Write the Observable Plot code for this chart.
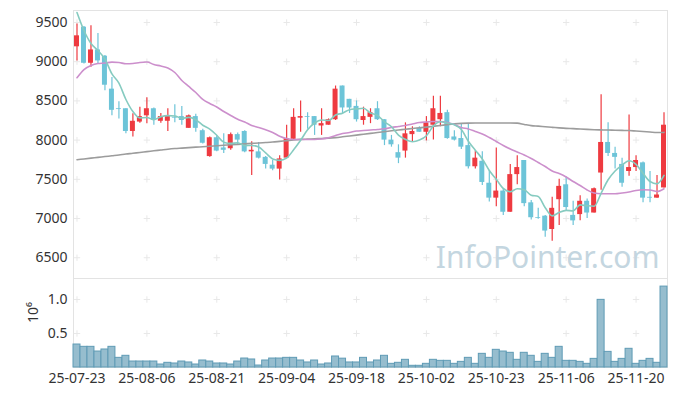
<!DOCTYPE html>
<html><head><meta charset="utf-8">
<script src="https://cdn.jsdelivr.net/npm/d3@7"></script>
<script src="https://cdn.jsdelivr.net/npm/@observablehq/plot@0.6"></script>
<style>
html,body{margin:0;padding:0;background:#fff;}
#chart{width:677px;height:396px;overflow:hidden;position:relative;}
#chart svg{display:block;overflow:visible;}
</style></head><body><div id="chart"></div>
<script>
const dates = ["25-07-23","25-07-24","25-07-25","25-07-28","25-07-29","25-07-30","25-07-31",
"25-08-01","25-08-04","25-08-05","25-08-06","25-08-07","25-08-08","25-08-11","25-08-12","25-08-13","25-08-14","25-08-18","25-08-19","25-08-20","25-08-21","25-08-22","25-08-25","25-08-26","25-08-27","25-08-28","25-08-29",
"25-09-01","25-09-02","25-09-03","25-09-04","25-09-05","25-09-08","25-09-09","25-09-10","25-09-11","25-09-12","25-09-15","25-09-16","25-09-17","25-09-18","25-09-19","25-09-22","25-09-23","25-09-24","25-09-25","25-09-26","25-09-29","25-09-30",
"25-10-01","25-10-02","25-10-10","25-10-13","25-10-14","25-10-15","25-10-16","25-10-17","25-10-20","25-10-21","25-10-22","25-10-23","25-10-24","25-10-27","25-10-28","25-10-29","25-10-30","25-10-31",
"25-11-03","25-11-04","25-11-05","25-11-06","25-11-07","25-11-10","25-11-11","25-11-12","25-11-13","25-11-14","25-11-17","25-11-18","25-11-19","25-11-20","25-11-21","25-11-24","25-11-25","25-11-26"];

const open = [9190,9440,8980,9150,9070,8650,8400,8400,8110,8230,8310,8400,8240,8240,8290,8300,8150,8300,8120,7790,
8030,7900,7890,8070,8110,7850,7850,7780,7680,7630,7770,8010,8280,8300,8300,8180,8190,8260,8690,8520,
8430,8250,8290,8400,8260,8000,7840,7860,8070,8150,8100,8190,8260,8350,8040,8020,7930,7660,7730,7450,
7260,7350,7080,7560,7740,7200,7010,7030,6860,7240,7430,7040,7050,7220,7070,7580,7970,7830,7690,7600,
7650,7710,7270,7260,7390];
const high = [9480,9450,9460,9360,9080,8800,8490,8400,8335,8420,8540,8410,8340,8400,8450,8430,8320,8330,8140,8040,
8060,8080,8090,8090,8120,7980,7970,7790,7740,7800,8190,8400,8500,8350,8300,8400,8270,8690,8690,8520,
8500,8420,8400,8490,8260,8060,7940,8220,8170,8170,8300,8560,8560,8380,8120,8210,8210,7860,7850,7610,
7900,7380,7690,7800,7740,7230,7130,7040,7270,7500,7530,7220,7290,7250,7390,8580,8220,7910,7770,8320,
7800,7720,7600,7550,8350];
const low = [9010,8970,8930,8970,8630,8310,8270,8080,8040,8215,8210,8190,8215,8110,8220,8190,8150,8100,7950,7780,
7850,7830,7870,7930,7840,7550,7760,7630,7610,7490,7770,8000,8100,8140,8060,8060,8190,8250,8340,8340,
8230,8190,8210,8250,7930,7910,7700,7770,7970,8100,7990,8000,8170,8010,7990,7880,7630,7630,7420,7210,
7150,7040,7080,7430,7150,6980,6990,6760,6710,6910,7100,6910,6970,7000,7070,7360,7790,7630,7400,7540,
7600,7200,7200,7260,7390];
const close = [9330,8980,9150,9010,8700,8380,8390,8110,8240,8300,8400,8250,8300,8310,8280,8250,8310,8150,7960,8030,
7860,7870,8070,8000,7850,7870,7770,7690,7630,7760,8020,8290,8300,8290,8190,8210,8260,8650,8410,8410,
8260,8300,8350,8260,8000,7940,7770,8080,8110,8100,8220,8400,8340,8020,8000,7910,7660,7770,7460,7260,
7350,7080,7560,7650,7190,7010,7000,6840,7130,7410,7140,6970,7220,7070,7380,7970,7830,7780,7450,7650,
7740,7260,7260,7300,8190];
// volume, millions of shares
const volume = [0.338,0.304,0.304,0.235,0.265,0.304,0.142,0.172,0.088,0.088,
0.088,0.088,0.044,0.069,0.059,0.088,0.074,0.044,0.103,0.088,
0.059,0.059,0.044,0.088,0.132,0.118,0.029,0.103,0.132,0.132,
0.142,0.142,0.103,0.074,0.103,0.044,0.059,0.162,0.130,0.074,
0.074,0.142,0.074,0.103,0.172,0.054,0.069,0.113,0.025,0.025,
0.054,0.113,0.098,0.098,0.054,0.083,0.142,0.054,0.201,0.142,
0.260,0.235,0.216,0.113,0.216,0.172,0.083,0.201,0.142,0.304,
0.098,0.098,0.083,0.054,0.127,0.995,0.230,0.083,0.127,0.275,
0.054,0.098,0.127,0.069,1.19];
const ma5 = [9628,9398,9232,9143,9034,8844,8726,8518,8364,8284,
8288,8260,8298,8312,8308,8278,8290,8260,8190,8140,
8062,7974,7958,7966,7930,7932,7912,7836,7760,7742,
7772,7876,7998,8132,8218,8256,8250,8320,8344,8388,
8398,8406,8346,8316,8234,8170,8064,8010,7980,8000,
8056,8182,8234,8216,8196,8134,7986,7872,7760,7612,
7500,7384,7342,7380,7366,7298,7282,7138,7034,7078,
7104,7098,7174,7162,7156,7322,7494,7606,7682,7736,
7690,7576,7472,7442,7550];
const ma20 = [8795,8900,8952,8977,8983,8994,8990,8973,8977,8990,
8996,8964,8945,8920,8862,8760,8684,8607,8518,8467,
8422,8365,8314,8267,8231,8186,8161,8131,8097,8050,
8020,8008,8008,8008,8008,8014,8029,8059,8084,8097,
8116,8122,8129,8135,8144,8161,8173,8186,8205,8224,
8231,8237,8237,8224,8199,8161,8142,8110,8078,8033,
7982,7931,7887,7848,7810,7765,7714,7663,7606,7574,
7529,7472,7421,7364,7325,7315,7315,7315,7325,7338,
7357,7366,7364,7344,7379];
const ma120 = [7750,7760,7770,7780,7790,7800,7810,7822,7832,7843,
7853,7864,7874,7884,7892,7898,7904,7910,7916,7922,
7928,7934,7940,7946,7952,7958,7964,7969,7975,7984,
7993,8002,8009,8013,8017,8021,8025,8032,8042,8053,
8064,8075,8086,8097,8108,8119,8129,8138,8148,8157,
8166,8176,8186,8197,8207,8214,8217,8218,8218,8218,
8218,8218,8218,8216,8200,8185,8178,8170,8163,8156,
8150,8146,8141,8137,8133,8130,8128,8126,8124,8122,
8116,8110,8103,8097,8098];

const priceTicks = [6500,7000,7500,8000,8500,9000,9500];
const volumeTicks = [0.5,1.0];
const dateTicks = ["25-07-23","25-08-06","25-08-21","25-09-04","25-09-18","25-10-02","25-10-23","25-11-06","25-11-20"];
const volumeLabel = "10⁶";
const watermark = "InfoPointer.com";

const rows = dates.map((d,i)=>({date:d, open:open[i], high:high[i], low:low[i], close:close[i],
  volume:volume[i], ma5:ma5[i], ma20:ma20[i], ma120:ma120[i]}));
const UP = "#ee3a40", DOWN = "#6dc4d8";
const col = d => d.close >= d.open ? UP : DOWN;
const priceGrid = d3.cross(dateTicks, priceTicks, (x,y)=>({x,y}));
const volGrid = d3.cross(dateTicks, volumeTicks, (x,y)=>({x,y}));

const font = {fontFamily:"'Noto Sans', sans-serif", fontSize:"14px", color:"#333", overflow:"visible", background:"transparent"};

const price = Plot.plot({
  width:677, height:278, marginLeft:73, marginRight:10, marginTop:10, marginBottom:0,
  style:font,
  x:{type:"band", domain:dates, padding:0, axis:null},
  y:{domain:[6235,9653], ticks:priceTicks, tickFormat:d3.format("d"), tickSize:0, tickPadding:6, label:null},
  marks:[
    Plot.frame({stroke:"#e3e3e3"}),
    Plot.dot(priceGrid, {x:"x", y:"y", symbol:"plus", r:2.2, stroke:"#e8e8e8", strokeWidth:1}),
    Plot.text([watermark], {frameAnchor:"bottom-right", dx:-8, dy:-11, fontSize:30, fill:"#c4d6e0", textAnchor:"end"}),
    Plot.ruleX(rows, {x:"date", y1:"low", y2:"high", stroke:col, strokeWidth:1.2}),
    Plot.barY(rows, {x:"date", y1:"open", y2:d=>d.close===d.open? d.close+8 : d.close, fill:col, insetLeft:1, insetRight:1}),
    Plot.lineY(rows, {x:"date", y:"ma120", stroke:"#9c9c9c", strokeWidth:1.6, curve:"monotone-x"}),
    Plot.lineY(rows, {x:"date", y:"ma20", stroke:"#cc8fcc", strokeWidth:1.6, curve:"monotone-x"}),
    Plot.lineY(rows, {x:"date", y:"ma5", stroke:"#86cbc0", strokeWidth:1.6, curve:"monotone-x"})
  ]
});

const vol = Plot.plot({
  width:677, height:118, marginLeft:73, marginRight:10, marginTop:0, marginBottom:29,
  style:font,
  x:{type:"band", domain:dates, padding:0, ticks:dateTicks, tickFormat:d=>d, tickSize:0, tickPadding:6, label:null},
  y:{domain:[0,1.309], ticks:volumeTicks, tickFormat:d3.format(".1f"), tickSize:0, tickPadding:6, label:null},
  marks:[
    Plot.frame({stroke:"#e3e3e3"}),
    Plot.dot(volGrid, {x:"x", y:"y", symbol:"plus", r:2.2, stroke:"#e8e8e8", strokeWidth:1}),
    Plot.barY(rows, {x:"date", y:"volume", fill:"#96bdce", stroke:"#5f9bb5", strokeWidth:1}),
    Plot.text([volumeLabel], {frameAnchor:"left", dx:-40, rotate:-90, fontSize:14, fill:"#333"})
  ]
});

document.getElementById("chart").append(price, vol);
</script></body></html>
